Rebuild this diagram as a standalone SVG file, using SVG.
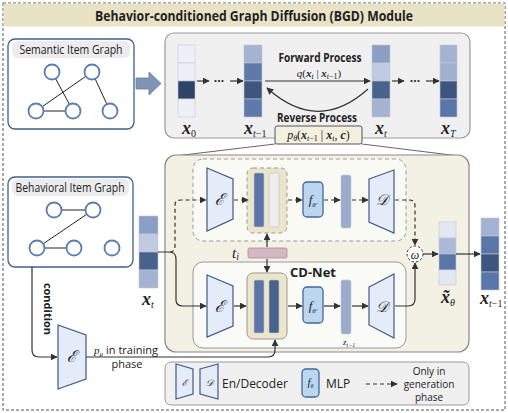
<svg xmlns="http://www.w3.org/2000/svg" width="508" height="413" viewBox="0 0 508 413">
<defs>
<style>
.sans{font-family:"Open Sans","Liberation Sans",sans-serif;fill:#222}
.b{font-weight:bold}
.math{font-family:"Liberation Serif","DejaVu Serif",serif;fill:#222}
.mx{font-family:"Liberation Serif",serif;font-weight:bold;font-style:italic;fill:#222}
.it{font-style:italic}
.gbox{fill:#fff;stroke:#3e5f8f;stroke-width:1.3}
.ghead{fill:#ececec;stroke:none}
.node{fill:#fff;stroke:#5b7db2;stroke-width:1.8}
.edge{stroke:#222;stroke-width:1}
.seg{stroke:#c4c8d0;stroke-width:0.6}
.enc{fill:#e3ecf8;stroke:#3e5a8a;stroke-width:1.2}
.mlp{fill:#bcd6ef;stroke:#3e6a9a;stroke-width:1.3}
.sym{font-family:"DejaVu Serif","Liberation Serif",serif;font-style:italic;fill:#222}
.ln{fill:none;stroke:#333;stroke-width:1.2}
.dl{fill:none;stroke:#333;stroke-width:1.2;stroke-dasharray:4 3}
</style>
<marker id="ah" viewBox="0 0 10 10" refX="9" refY="5" markerWidth="7" markerHeight="7" orient="auto-start-reverse" markerUnits="userSpaceOnUse">
<path d="M0,0 L10,5 L0,10 z" fill="#333"/>
</marker>
</defs>

<!-- outer frame -->
<rect x="3" y="3" width="502" height="407" fill="#fff" stroke="#555" stroke-width="1" stroke-dasharray="3 2"/>
<rect x="3.5" y="3.5" width="501" height="23" fill="#e9e3c6"/>
<text x="254" y="21" text-anchor="middle" class="sans b" font-size="14" textLength="318" lengthAdjust="spacingAndGlyphs">Behavior-conditioned Graph Diffusion (BGD) Module</text>

<!-- Semantic item graph -->
<g id="semantic-graph">
<rect x="8" y="39" width="126" height="90" rx="7" class="gbox"/>
<rect x="12" y="41" width="118" height="17" rx="6" class="ghead"/>
<text x="71" y="54" text-anchor="middle" class="sans" font-size="12" textLength="103" lengthAdjust="spacingAndGlyphs">Semantic Item Graph</text>
<line x1="92" y1="72" x2="36" y2="111" class="edge"/>
<line x1="52" y1="72" x2="73" y2="111" class="edge"/>
<line x1="36" y1="111" x2="73" y2="111" class="edge"/>
<line x1="92" y1="72" x2="110" y2="111" class="edge"/>
<circle cx="52" cy="72" r="7.5" class="node"/>
<circle cx="92" cy="72" r="7.5" class="node"/>
<circle cx="36" cy="111" r="7.5" class="node"/>
<circle cx="73" cy="111" r="7.5" class="node"/>
<circle cx="110" cy="111" r="7.5" class="node"/>
</g>

<g id="big-arrow">
<path d="M136,78 L149,78 L149,72 L161,83.5 L149,95 L149,89 L136,89 z" fill="#7f93b5" stroke="#6a7ea0" stroke-width="0.8"/>
</g>

<!-- diffusion process box -->
<g id="process-box">
<rect x="165" y="33" width="305" height="105" rx="9" fill="#f0f0f0" stroke="#999" stroke-width="1.2"/>
</g>

<g id="x0">
<rect x="178" y="45" width="17" height="18" fill="#eef0f8" class="seg"/>
<rect x="178" y="63" width="17" height="18" fill="#eef0f8" class="seg"/>
<rect x="178" y="81" width="17" height="18" fill="#2e4466" class="seg"/>
<rect x="178" y="99" width="17" height="18" fill="#eef0f8" class="seg"/>
<text x="182" y="134" class="mx" font-size="18">x<tspan font-weight="normal" font-style="normal" font-size="10" dy="3">0</tspan></text>
</g>
<g id="xtm1-top">
<rect x="244" y="45" width="18" height="18" fill="#a3b3d1" class="seg"/>
<rect x="244" y="63" width="18" height="18" fill="#5e7aaa" class="seg"/>
<rect x="244" y="81" width="18" height="18" fill="#3d5680" class="seg"/>
<rect x="244" y="99" width="18" height="18" fill="#5e7aaa" class="seg"/>
<text x="244" y="134" class="mx" font-size="18">x<tspan font-weight="normal" font-size="10" dy="3">t</tspan><tspan font-weight="normal" font-style="normal" font-size="10">−1</tspan></text>
</g>
<g id="xt-top">
<rect x="372" y="45" width="18" height="18" fill="#8b9ec6" class="seg"/>
<rect x="372" y="63" width="18" height="18" fill="#bfcbe0" class="seg"/>
<rect x="372" y="81" width="18" height="18" fill="#48628e" class="seg"/>
<rect x="372" y="99" width="18" height="18" fill="#a3b3d1" class="seg"/>
<text x="375" y="134" class="mx" font-size="18">x<tspan font-weight="normal" font-size="10" dy="3">t</tspan></text>
</g>
<g id="xT">
<rect x="440" y="45" width="17" height="18" fill="#a3b3d1" class="seg"/>
<rect x="440" y="63" width="17" height="18" fill="#a0b0cf" class="seg"/>
<rect x="440" y="81" width="17" height="18" fill="#3d5680" class="seg"/>
<rect x="440" y="99" width="17" height="18" fill="#5a76a8" class="seg"/>
<text x="441" y="134" class="mx" font-size="18">x<tspan font-weight="normal" font-size="10" dy="3">T</tspan></text>
</g>

<g id="p-theta-box">
<rect x="275" y="126" width="87" height="18" rx="2" fill="#f3f0e0" stroke="#555" stroke-width="1"/>
<text x="318.5" y="139" text-anchor="middle" class="math" font-size="12"><tspan font-style="italic">p</tspan><tspan font-style="italic" font-size="8" dy="2">θ</tspan><tspan dy="-2">(</tspan><tspan font-weight="bold" font-style="italic">x</tspan><tspan font-style="italic" font-size="8" dy="2">t</tspan><tspan font-size="8">−1</tspan><tspan dy="-2"> | </tspan><tspan font-weight="bold" font-style="italic">x</tspan><tspan font-style="italic" font-size="8" dy="2">t</tspan><tspan dy="-2">, </tspan><tspan font-weight="bold" font-style="italic">c</tspan>)</text>
</g>

<!-- CD-Net region -->
<g id="region">
<path d="M275,144 L175,156 M362,144 L459,156" stroke="#666" stroke-width="1" fill="none"/>
<rect x="165" y="155" width="304" height="197" rx="11" fill="#f3f1e4" stroke="#888" stroke-width="1.2"/>
</g>

<g id="gen-branch-box">
<rect x="193" y="159" width="213" height="82" rx="10" fill="#fafaf5" stroke="#999" stroke-width="1" stroke-dasharray="4 3"/>
</g>
<g id="cdnet-box">
<rect x="193" y="262" width="213" height="86" rx="10" fill="#fafaf7" stroke="#999" stroke-width="1"/>
<text x="313" y="277" text-anchor="middle" class="sans b" font-size="13">CD-Net</text>
</g>

<!-- top branch -->
<g id="enc-top">
<path d="M207,168 L233,179 L233,219 L207,231 z" class="enc"/>
<text x="220" y="205" text-anchor="middle" class="sym" font-size="16">ℰ</text>
</g>
<g id="cols-top">
<rect x="247" y="168" width="40" height="65" rx="6" fill="#ebe5cb" stroke="#999" stroke-width="1" stroke-dasharray="4 3"/>
<rect x="254" y="173" width="10" height="54" rx="1.5" fill="#5a76a8" stroke="#c4c8d0" stroke-width="0.6"/>
<rect x="269" y="173" width="10" height="54" rx="1.5" fill="#eeeeee" stroke="#c8c8c8" stroke-width="0.8"/>
</g>
<g id="mlp-top">
<rect x="303" y="182" width="20" height="35" rx="4" class="mlp"/>
<text x="313" y="204" text-anchor="middle" class="math it" font-size="13">f<tspan font-size="7" dy="3">θ'</tspan></text>
</g>
<g id="bar-top">
<rect x="341" y="175" width="10" height="53" rx="2" fill="#9aabcc" stroke="#c4c8d0" stroke-width="0.6"/>
</g>
<g id="dec-top">
<path d="M369,179 L394,170 L394,233 L369,222 z" class="enc"/>
<text x="382" y="205" text-anchor="middle" class="sym" font-size="15">𝒟</text>
</g>

<!-- bottom branch -->
<g id="enc-bot">
<path d="M207,275 L233,286 L233,326 L207,337 z" class="enc"/>
<text x="220" y="312" text-anchor="middle" class="sym" font-size="16">ℰ</text>
</g>
<g id="cols-bot">
<rect x="247" y="273" width="40" height="66" rx="6" fill="#ebe5cb" stroke="#999" stroke-width="1"/>
<rect x="254" y="280" width="10" height="53" rx="1.5" fill="#5a76a8" stroke="#c4c8d0" stroke-width="0.6"/>
<rect x="269" y="280" width="10" height="53" rx="1.5" fill="#48628e" stroke="#c4c8d0" stroke-width="0.6"/>
</g>
<g id="mlp-bot">
<rect x="303" y="287" width="20" height="36" rx="4" class="mlp"/>
<text x="313" y="310" text-anchor="middle" class="math it" font-size="13">f<tspan font-size="7" dy="3">θ'</tspan></text>
</g>
<g id="bar-bot">
<rect x="341" y="280" width="10" height="54" rx="2" fill="#9aabcc" stroke="#c4c8d0" stroke-width="0.6"/>
<text x="343" y="345" class="math it" font-size="9">z<tspan font-size="6" dy="2">t−1</tspan></text>
</g>
<g id="dec-bot">
<path d="M369,287 L394,274 L394,338 L369,325 z" class="enc"/>
<text x="382" y="312" text-anchor="middle" class="sym" font-size="15">𝒟</text>
</g>

<g id="ti">
<rect x="248" y="248" width="39" height="10" rx="1.5" fill="#d4b8c1" stroke="#a88c96" stroke-width="0.8"/>
<text x="232" y="258" class="math it" font-size="15">t<tspan font-size="10" dy="2">i</tspan></text>
</g>

<g id="omega">
<circle cx="415" cy="254" r="8" fill="#fff" stroke="#333" stroke-width="1" stroke-dasharray="2.5 2"/>
<text x="415" y="258.5" text-anchor="middle" class="math it" font-size="12">ω</text>
</g>

<g id="xt-input">
<rect x="139" y="216" width="19" height="18" fill="#8b9ec6" class="seg"/>
<rect x="139" y="234" width="19" height="18" fill="#bfcbe0" class="seg"/>
<rect x="139" y="252" width="19" height="18" fill="#48628e" class="seg"/>
<rect x="139" y="270" width="19" height="18" fill="#a3b3d1" class="seg"/>
<text x="142" y="305" class="mx" font-size="18">x<tspan font-weight="normal" font-size="10" dy="3">t</tspan></text>
</g>

<g id="xtilde">
<rect x="439" y="222" width="17" height="16" fill="#e2e7f2" class="seg"/>
<rect x="439" y="238" width="17" height="16" fill="#aabad6" class="seg"/>
<rect x="439" y="254" width="17" height="16" fill="#5a76a8" class="seg"/>
<rect x="439" y="270" width="17" height="15" fill="#e2e7f2" class="seg"/>
<text x="441" y="303" class="mx" font-size="18">x̃<tspan font-weight="normal" font-size="10" dy="3">θ</tspan></text>
</g>

<g id="xtm1-out">
<rect x="481" y="218" width="18" height="18" fill="#a3b3d1" class="seg"/>
<rect x="481" y="236" width="18" height="18" fill="#5a76a8" class="seg"/>
<rect x="481" y="254" width="18" height="18" fill="#3d5680" class="seg"/>
<rect x="481" y="272" width="18" height="18" fill="#5a76a8" class="seg"/>
<text x="480" y="304" class="mx" font-size="18">x<tspan font-weight="normal" font-size="10" dy="3">t</tspan><tspan font-weight="normal" font-style="normal" font-size="10">−1</tspan></text>
</g>

<!-- Behavioral item graph -->
<g id="behavioral-graph">
<rect x="8" y="177" width="125" height="90" rx="7" class="gbox"/>
<rect x="12" y="179" width="117" height="17" rx="6" class="ghead"/>
<text x="70" y="192" text-anchor="middle" class="sans" font-size="12" textLength="109" lengthAdjust="spacingAndGlyphs">Behavioral Item Graph</text>
<line x1="54" y1="210" x2="93" y2="210" class="edge"/>
<line x1="93" y1="210" x2="37" y2="248" class="edge"/>
<line x1="37" y1="248" x2="74" y2="248" class="edge"/>
<circle cx="54" cy="210" r="7.5" class="node"/>
<circle cx="93" cy="210" r="7.5" class="node"/>
<circle cx="37" cy="248" r="7.5" class="node"/>
<circle cx="74" cy="248" r="7.5" class="node"/>
<circle cx="112" cy="248" r="7.5" class="node"/>
</g>

<g id="cond-enc">
<path d="M58,325 L86,335 L86,379 L58,389 z" class="enc"/>
<text x="72" y="362" text-anchor="middle" class="sym" font-size="16">ℰ</text>
</g>

<!-- legend -->
<g id="legend">
<rect x="165" y="362" width="304" height="43" rx="6" fill="#f0f0f0" stroke="#999" stroke-width="1"/>
<path d="M176,364 L193,369 L193,394 L176,399 z" class="enc"/>
<text x="184.5" y="386" text-anchor="middle" class="sym" font-size="9">ℰ</text>
<path d="M200,369 L218,364 L218,399 L200,394 z" class="enc"/>
<text x="209" y="386" text-anchor="middle" class="sym" font-size="9">𝒟</text>
<text x="222" y="388" class="sans" font-size="12">En/Decoder</text>
<rect x="302" y="369" width="17" height="28" rx="4" class="mlp"/>
<text x="310.5" y="386" text-anchor="middle" class="math it" font-size="11">f<tspan font-size="6" dy="2">θ</tspan></text>
<text x="326" y="388" class="sans" font-size="12">MLP</text>
<line x1="366" y1="384" x2="397" y2="384" class="dl" stroke-dasharray="3 2" stroke-width="1" marker-end="url(#ah)"/>
<text x="429" y="375" text-anchor="middle" class="sans" font-size="10">Only in</text>
<text x="429" y="388" text-anchor="middle" class="sans" font-size="10">generation</text>
<text x="429" y="401" text-anchor="middle" class="sans" font-size="10">phase</text>
</g>

<!-- connectors -->
<g id="connectors">
<!-- top chain -->
<line x1="197" y1="81" x2="209" y2="81" class="ln" marker-end="url(#ah)"/>
<text x="219" y="85" text-anchor="middle" class="sans b" font-size="12">···</text>
<line x1="230" y1="81" x2="243" y2="81" class="ln" marker-end="url(#ah)"/>
<line x1="265" y1="81" x2="370" y2="81" class="ln" marker-end="url(#ah)"/>
<path d="M368,89 Q318,134 267,88" class="ln" marker-end="url(#ah)"/>
<line x1="392" y1="81" x2="404" y2="81" class="ln" marker-end="url(#ah)"/>
<text x="415" y="85" text-anchor="middle" class="sans b" font-size="12">···</text>
<line x1="426" y1="81" x2="439" y2="81" class="ln" marker-end="url(#ah)"/>

<!-- generation branch (dashed) -->
<path d="M170,252 Q175,252 175,246 L175,205 Q175,200 181,200 L206,200" class="dl" marker-end="url(#ah)"/>
<line x1="234" y1="200" x2="248" y2="200" class="dl" marker-end="url(#ah)"/>
<line x1="288" y1="200" x2="302" y2="200" class="dl" marker-end="url(#ah)"/>
<line x1="324" y1="200" x2="340" y2="200" class="dl" marker-end="url(#ah)"/>
<line x1="352" y1="200" x2="368" y2="200" class="dl" marker-end="url(#ah)"/>
<path d="M395,200 L409,200 Q415,200 415,206 L415,245" class="dl" marker-end="url(#ah)"/>

<!-- training / CD-Net branch -->
<path d="M158,252 L169,252 Q176,252 176,259 L176,300 Q176,306 183,306 L206,306" class="ln" marker-end="url(#ah)"/>
<line x1="234" y1="306" x2="246" y2="306" class="ln" marker-end="url(#ah)"/>
<line x1="288" y1="306" x2="302" y2="306" class="ln" marker-end="url(#ah)"/>
<line x1="324" y1="306" x2="340" y2="306" class="ln" marker-end="url(#ah)"/>
<line x1="352" y1="306" x2="368" y2="306" class="ln" marker-end="url(#ah)"/>
<path d="M395,306 L408,306 Q415,306 415,299 L415,263" class="ln" marker-end="url(#ah)"/>

<!-- t_i -->
<line x1="267" y1="247" x2="267" y2="234" class="ln" marker-end="url(#ah)"/>
<line x1="267" y1="259" x2="267" y2="272" class="ln" marker-end="url(#ah)"/>

<!-- outputs -->
<line x1="423" y1="254" x2="438" y2="254" class="ln" marker-end="url(#ah)"/>
<line x1="456" y1="254" x2="480" y2="254" class="ln" marker-end="url(#ah)"/>

<!-- condition -->
<path d="M32,267 L32,350 Q32,357 39,357 L57,357" class="ln" marker-end="url(#ah)"/>
<path d="M86,357 L268,357 Q275,357 275,350 L275,340" class="ln" marker-end="url(#ah)"/>
</g>

<!-- labels -->
<text x="320" y="62" text-anchor="middle" class="sans b" font-size="12" textLength="83" lengthAdjust="spacingAndGlyphs">Forward Process</text>
<text x="319" y="77" text-anchor="middle" class="math" font-size="11"><tspan font-style="italic">q</tspan>(<tspan font-weight="bold" font-style="italic">x</tspan><tspan font-style="italic" font-size="8" dy="2">t</tspan><tspan dy="-2"> | </tspan><tspan font-weight="bold" font-style="italic">x</tspan><tspan font-style="italic" font-size="8" dy="2">t</tspan><tspan font-size="8">−1</tspan><tspan dy="-2">)</tspan></text>
<text x="317" y="122" text-anchor="middle" class="sans b" font-size="12" textLength="80" lengthAdjust="spacingAndGlyphs">Reverse Process</text>
<text x="44" y="309" text-anchor="middle" class="sans b" font-size="11" transform="rotate(90 44 309)">condition</text>
<text x="94" y="354" class="math it" font-size="11">p<tspan font-size="7" dy="2">μ</tspan></text>
<text x="106" y="354" class="sans" font-size="11">in training</text>
<text x="127" y="368" text-anchor="middle" class="sans" font-size="11">phase</text>
</svg>
